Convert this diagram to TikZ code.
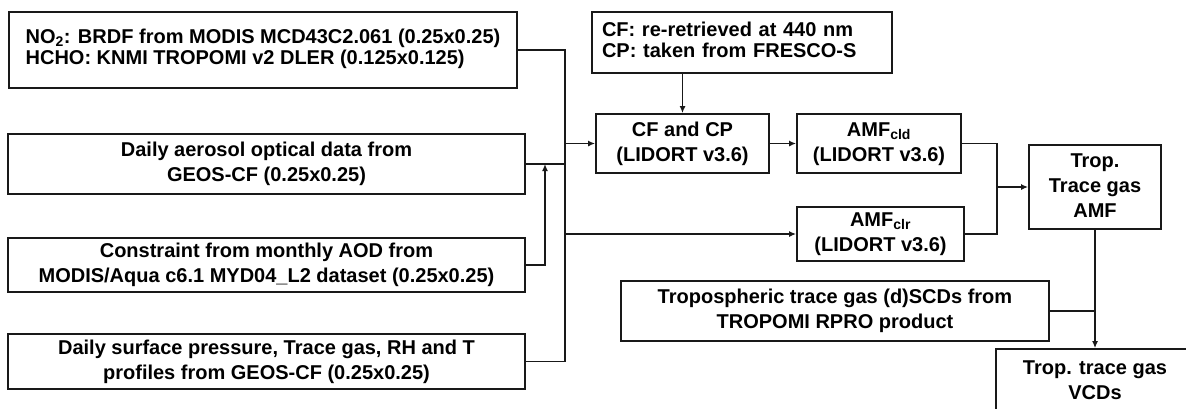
\documentclass[tikz,border=0pt]{standalone}
\usepackage{fontspec}
\setmainfont{Liberation Sans}
\usetikzlibrary{arrows.meta}
\newcommand{\boxtext}[2][c]{\begin{tabular}{@{}#1@{}}#2\end{tabular}}
\tikzset{
	inbox/.style={draw=black!90, line width=1.8pt, rectangle, inner sep=0pt, font=\fontsize{20}{25}\selectfont\bfseries},
	tight/.style={font=\fontsize{20}{21}\selectfont\bfseries},
	link/.style={draw=black!90, line width=1.4pt},
	arr/.style={link, -{Latex[length=7pt,width=6pt]}}
}
\begin{document}
\begin{tikzpicture}[x=1pt,y=-1pt]
			\useasboundingbox (0,0) rectangle (1186,408);
			\clip (0,0) rectangle (1186,408);
			\fill[white] (0,0) rectangle (1186,408);
			
			\node[inbox, tight, minimum width=508, minimum height=76] (no2) at (263,50) {\boxtext[l]{NO\textsubscript{2}: BRDF from MODIS MCD43C2.061 (0.25x0.25)\\HCHO: KNMI TROPOMI v2 DLER (0.125x0.125)}};
			\node[inbox, minimum width=517, minimum height=60] (aer) at (266.5,164) {\boxtext{Daily aerosol optical data from\\GEOS-CF (0.25x0.25)}};
			\node[inbox, minimum width=517, minimum height=54] (aod) at (266.5,265) {\boxtext{Constraint from monthly AOD from\\MODIS/Aqua c6.1 MYD04\_L2 dataset (0.25x0.25)}};
			\node[inbox, minimum width=517, minimum height=55] (met) at (266.5,361.5) {\boxtext{Daily surface pressure, Trace gas, RH and T\\profiles from GEOS-CF (0.25x0.25)}};
			\node[inbox, tight, text width=280pt, inner xsep=10pt, align=left, minimum height=61] (cfin) at (742,42.5) {\boxtext[l]{CF: re-retrieved at 440 nm\\CP: taken from FRESCO-S}};
			\node[inbox, minimum width=173, minimum height=59] (cfcp) at (682.5,143.5) {\boxtext{CF and CP\\(LIDORT v3.6)}};
			\node[inbox, minimum width=164, minimum height=59] (cld) at (879,143.5) {\boxtext{AMF\textsubscript{cld}\\(LIDORT v3.6)}};
			\node[inbox, minimum width=167, minimum height=54] (clr) at (880.5,234) {\boxtext{AMF\textsubscript{clr}\\(LIDORT v3.6)}};
			\node[inbox, minimum width=132, minimum height=84] (trop) at (1095,187) {\boxtext{Trop.\\Trace gas\\AMF}};
			\node[inbox, minimum width=428, minimum height=60] (scd) at (835,311) {\boxtext{Tropospheric trace gas (d)SCDs from\\TROPOMI RPRO product}};
			\node[inbox, minimum width=198, minimum height=66] (vcd) at (1095,382) {\raisebox{3pt}{\boxtext{Trop. trace gas\\VCDs}}};
			
			\coordinate (bus) at (565,0);
			\coordinate (lift) at (545,0);
			\coordinate (mrg) at (997,0);
			
			\draw[link] (no2.east) -| (met.east -| bus) -- (met.east);
			\draw[link] (aer.east) -- (aer.east -| bus);
			\draw[arr] (aod.east) -| (aer.east -| lift);
			\draw[arr] (cfcp.west -| bus) -- (cfcp.west);
			\draw[arr] (clr.west -| bus) -- (clr.west);
			\draw[arr] (cfin.south -| cfcp.north) -- (cfcp.north);
			\draw[arr] (cfcp) -- (cld);
			\draw[link] (cld.east) -| (clr.east -| mrg) -- (clr.east);
			\draw[arr] (trop.west -| mrg) -- (trop.west);
			\draw[arr] (trop) -- (vcd);
			\draw[link] (scd.east) -- (scd.east -| trop.south);
		\end{tikzpicture}
\end{document}
